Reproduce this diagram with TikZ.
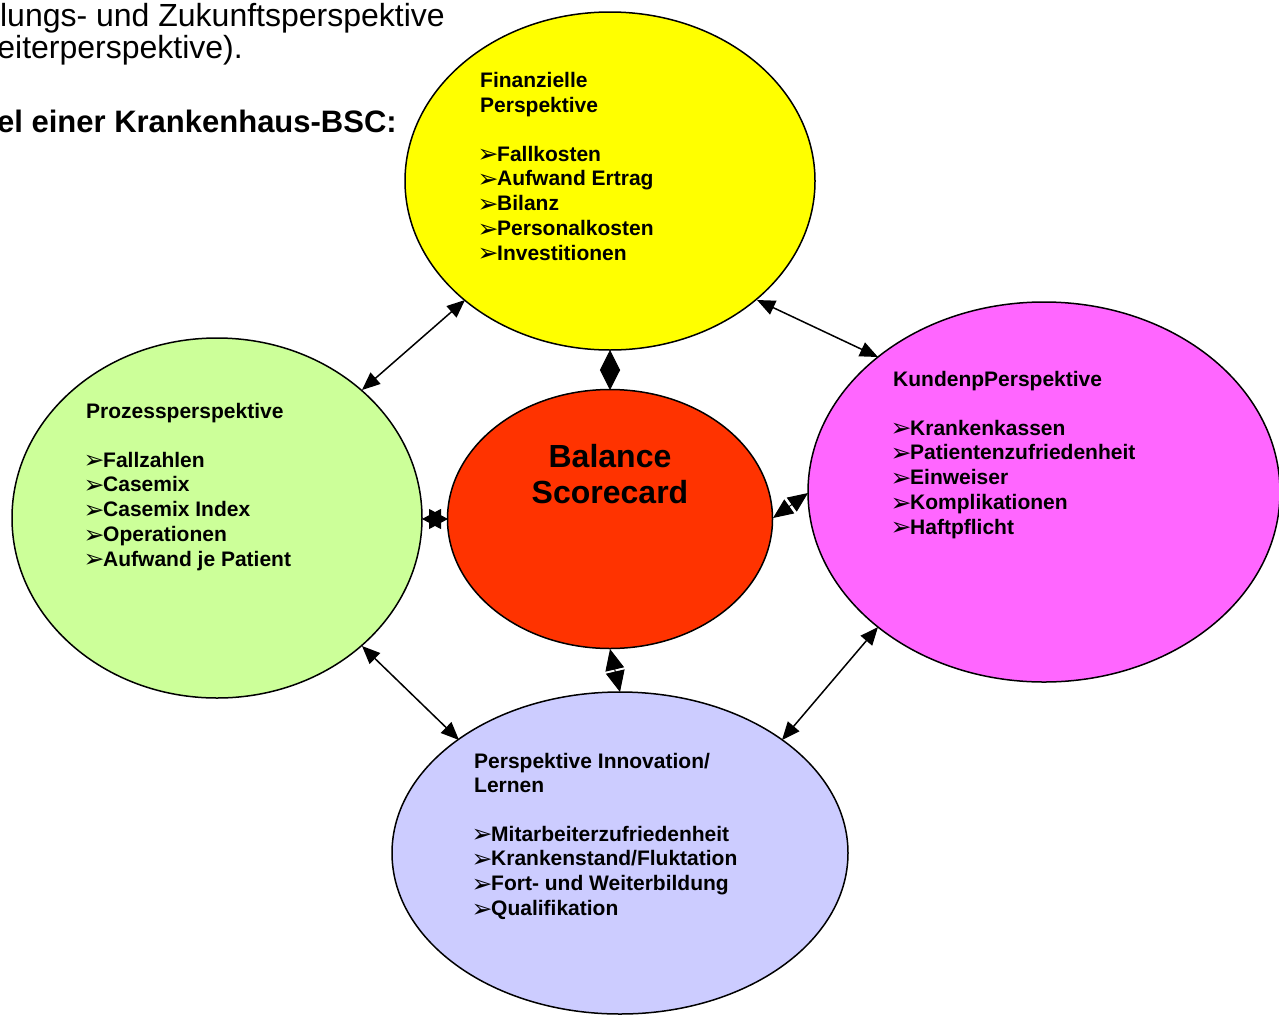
\documentclass[tikz,border=0pt]{standalone}
\usepackage{fontspec}
\setmainfont{Liberation Sans}
\newfontfamily\bulfont{DejaVu Sans}
\usetikzlibrary{shapes.geometric,arrows.meta}
\definecolor{cyel}{HTML}{FFFF00}
\definecolor{cred}{HTML}{FF3300}
\definecolor{cgrn}{HTML}{CCFF99}
\definecolor{cmag}{HTML}{FF66FF}
\definecolor{clav}{HTML}{CCCCFF}
\newcommand\mybul{\makebox[17pt][l]{\hspace{-2.5pt}\bulfont\fontsize{25}{25}\selectfont\raisebox{-1.5pt}{➢}}}
\begin{document}
\begin{tikzpicture}[x=1pt,y=-1pt,
  elli/.style={ellipse,draw=black,line width=1.5pt,inner sep=0pt,outer sep=0pt},
  lbl/.style={anchor=base west,inner sep=0pt,font=\fontsize{21}{25}\selectfont\bfseries},
  toptxt/.style={anchor=base east,inner sep=0pt,font=\fontsize{32}{36}\selectfont},
  conn/.style={line width=1.5pt,{Triangle[length=18pt,width=15pt]}-{Triangle[length=18pt,width=15pt]}}]
\clip (0,0) rectangle (1279,1015);
\fill[white] (0,0) rectangle (1279,1015);

% top text
\node[toptxt] (t1) at (445,26) {lungs- und Zukunftsperspektive};
\node[toptxt] (t2) at (243,58) {eiterperspektive).};
\node[toptxt,font=\fontsize{31}{36}\selectfont\bfseries] (t3) at (397,132) {el einer Krankenhaus-BSC:};

% ellipses
\node[elli,fill=cyel,minimum width=410pt,minimum height=338pt] (fin) at (610,181) {};
\node[elli,fill=cgrn,minimum width=410pt,minimum height=360pt] (pro) at (217,518) {};
\node[elli,fill=cmag,minimum width=472pt,minimum height=380pt] (kun) at (1044,492) {};
\node[elli,fill=clav,minimum width=456pt,minimum height=322pt] (inn) at (620,853) {};
\node[elli,fill=cred,minimum width=325pt,minimum height=259pt] (bsc) at (610,519) {};

% center text
\node[anchor=base,inner sep=0pt,font=\fontsize{32}{36}\selectfont\bfseries] (b1) at (610,467) {Balance};
\node[anchor=base,inner sep=0pt,font=\fontsize{32}{36}\selectfont\bfseries] (b2) at (610,503) {Scorecard};

% Finanzielle
\node[lbl] (fh1) at (480,87) {Finanzielle};
\node[lbl] (fh2) at (480,112) {Perspektive};
\foreach \t [count=\i] in {Fallkosten,Aufwand Ertrag,Bilanz,Personalkosten,Investitionen}
  \node[lbl] (f\i) at (480,{161+24.85*(\i-1)}) {\mybul\t};

% Prozess
\node[lbl] (ph1) at (86,418) {Prozessperspektive};
\foreach \t [count=\i] in {Fallzahlen,Casemix,Casemix Index,Operationen,Aufwand je Patient}
  \node[lbl] (p\i) at (86,{467+24.85*(\i-1)}) {\mybul\t};

% Kunden
\node[lbl] (kh1) at (893,386) {KundenpPerspektive};
\foreach \t [count=\i] in {Krankenkassen,Patientenzufriedenheit,Einweiser,Komplikationen,Haftpflicht}
  \node[lbl] (k\i) at (893,{435+24.85*(\i-1)}) {\mybul\t};

% Innovation
\node[lbl] (ih1) at (474,768) {Perspektive Innovation/};
\node[lbl] (ih2) at (474,792) {Lernen};
\foreach \t [count=\i] in {Mitarbeiterzufriedenheit,Krankenstand/Fluktation,Fort- und Weiterbildung,Qualifikation}
  \node[lbl] (i\i) at (474,{841+24.85*(\i-1)}) {\mybul\t};

% connector end points
\coordinate (a1s) at (465,300); \coordinate (a1e) at (362,390);
\coordinate (a2s) at (757,300); \coordinate (a2e) at (878,357);
\coordinate (a3s) at (362,646); \coordinate (a3e) at (459,740);
\coordinate (a4s) at (878,627); \coordinate (a4e) at (782,740);
\coordinate (a5s) at (610,350); \coordinate (a5e) at (610,390);
\coordinate (a6s) at (448,519); \coordinate (a6e) at (422,519);
\coordinate (a7s) at (773,518); \coordinate (a7e) at (808,493);
\coordinate (a8s) at (610,649); \coordinate (a8e) at (620,692);

\draw[conn] (a1s) -- (a1e);
\draw[conn] (a2s) -- (a2e);
\draw[conn] (a3s) -- (a3e);
\draw[conn] (a4s) -- (a4e);
\draw[line width=1pt,{Triangle[length=20pt,width=20pt]}-{Triangle[length=20pt,width=20pt]}] (a5s) -- (a5e);
\draw[line width=1pt,{Triangle[length=19pt,width=20pt]}-{Triangle[length=19pt,width=20pt]}] (a6s) -- (a6e);
\draw[line width=1pt,{Triangle[length=20pt,width=17pt]}-{Triangle[length=20pt,width=17pt]}] (a7s) -- (a7e);
\draw[line width=1pt,{Triangle[length=21pt,width=19pt]}-{Triangle[length=21pt,width=19pt]}] (a8s) -- (a8e);
\end{tikzpicture}
\end{document}
